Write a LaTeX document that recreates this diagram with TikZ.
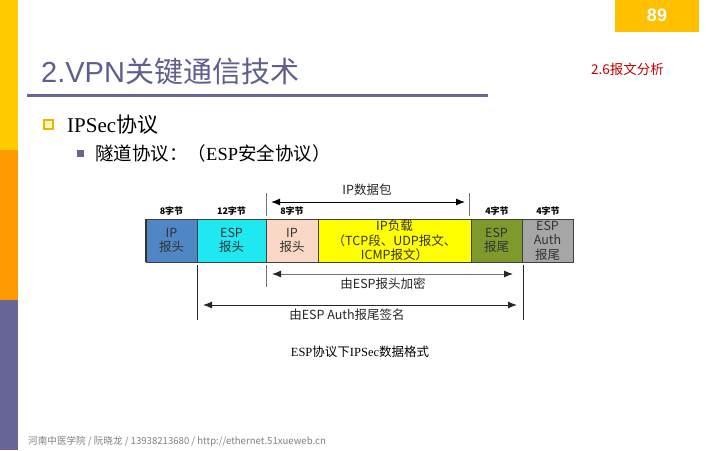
\documentclass[tikz,border=0pt]{standalone}
\usepackage{fontspec}
\setmainfont{Liberation Serif}
\newfontfamily\cjk{Noto Sans CJK SC}
\newfontfamily\arial{Liberation Sans}
\usetikzlibrary{arrows.meta}
\definecolor{baryellow}{HTML}{FFCC00}
\definecolor{barorange}{HTML}{FF9900}
\definecolor{barpurple}{HTML}{666699}
\definecolor{pagebox}{HTML}{FFC000}
\definecolor{titlecol}{HTML}{5F5F8F}
\definecolor{subred}{HTML}{C00000}
\definecolor{ipblue}{HTML}{4F86C6}
\definecolor{espcyan}{HTML}{20E8F0}
\definecolor{peach}{HTML}{FAD8C6}
\definecolor{payyellow}{HTML}{FFFF00}
\definecolor{olive}{HTML}{7E9A2C}
\definecolor{authgray}{HTML}{A6A6A6}
\definecolor{footgray}{HTML}{808080}
\tikzset{
  fbox/.style={draw=black!75, line width=0.8pt, minimum height=43pt, inner sep=0pt, align=center,
    font=\fontsize{12.5}{14.5}\cjk, text=black!80},
  sizelbl/.style={font=\fontsize{9}{10}\cjk\bfseries, inner sep=0pt},
  arrlbl/.style={font=\fontsize{12.5}{14}\cjk, inner sep=0pt, text=black!85},
  tick/.style={line width=1pt},
  arr/.style={line width=1pt, {Latex[length=9pt,width=7pt]}-{Latex[length=9pt,width=7pt]}},
}
\begin{document}
\begin{tikzpicture}[x=1pt,y=-1pt]
\useasboundingbox (0,0) rectangle (720,450);
\fill[white] (0,0) rectangle (720,450);
% left bar
\fill[baryellow] (0,0) rectangle (18,150);
\fill[barorange] (0,150) rectangle (18,300);
\fill[barpurple] (0,300) rectangle (18,450);
% page number
\fill[pagebox] (615,0) rectangle (699,32);
\node[font=\fontsize{18}{20}\arial\bfseries, text=white] (pgno) at (657,15) {89};
% title
\node[anchor=base west, inner sep=0pt, text=titlecol, font=\fontsize{29}{32}\cjk] (title) at (41,82) {{\arial 2.VPN}关键通信技术};
\draw[barpurple, line width=3pt] (27,95) -- (488,95);
\node[anchor=base west, inner sep=0pt, text=subred, font=\fontsize{13.5}{14}\cjk] (sub) at (591,74) {2.6报文分析};
% bullets
\draw[draw=baryellow!90!black, fill=baryellow!25, line width=1.6pt] (44,120) rectangle (53,129);
\node[anchor=base west, inner sep=0pt, font=\fontsize{21}{22}\selectfont] (b1) at (67,132) {IPSec{\cjk\fontsize{21}{22}\selectfont 协议}};
\fill[barpurple] (77,150) rectangle (84,157);
\node[anchor=base west, inner sep=0pt, font=\fontsize{18.5}{20}\cjk] (b2) at (95,160) {隧道协议：（{\rmfamily ESP}安全协议）};
% boxes
\node[fbox, fill=ipblue, minimum width=51pt] (iph) at (171.5,240.5) {IP\\报头};
\node[fbox, fill=espcyan, minimum width=69pt] (esph) at (231.5,240.5) {ESP\\报头};
\node[fbox, fill=peach, minimum width=52pt] (iph2) at (292,240.5) {IP\\报头};
\node[fbox, fill=payyellow, minimum width=153pt] (pay) at (394.5,240.5) {IP负载\\（TCP段、UDP报文、\\ICMP报文）};
\node[fbox, fill=olive, minimum width=51pt] (espt) at (496.5,240.5) {ESP\\报尾};
\node[fbox, fill=authgray, minimum width=51pt] (auth) at (547.5,240.5) {ESP\\Auth\\报尾};
\draw[black!80, line width=2pt] (iph.north west) -- (iph.south west);
% size labels
\node[sizelbl] (s1) at (171.5,211) {8字节};
\node[sizelbl] (s2) at (231.5,211) {12字节};
\node[sizelbl] (s3) at (292,211) {8字节};
\node[sizelbl] (s4) at (497,211) {4字节};
\node[sizelbl] (s5) at (548,211) {4字节};
% top arrow
\coordinate (ta) at (266,193); \coordinate (tb) at (266,216);
\coordinate (tc) at (469,193); \coordinate (td) at (469,216);
\draw[tick, black!55] (ta) -- (tb);
\draw[tick, black!55] (tc) -- (td);
\coordinate (tl) at (271,202); \coordinate (tr) at (465,202);
\draw[arr] (tl) -- (tr);
\node[arrlbl] (tlbl) at (367,190) {IP数据包};
% middle arrow
\coordinate (ma) at (266,265); \coordinate (mb) at (266,287);
\draw[tick, black!55] (ma) -- (mb);
\coordinate (ml) at (272,274); \coordinate (mr) at (513,274);
\draw[line width=1pt, black!55, {Latex[length=9pt,width=7pt,fill=black!85,color=black!85]}-{Latex[length=9pt,width=7pt,fill=black!85,color=black!85]}] (ml) -- (mr);
\node[arrlbl] (mlbl) at (383,284) {由ESP报头加密};
% bottom arrow
\coordinate (ba) at (197,265); \coordinate (bb) at (197,320);
\coordinate (bc) at (523,265); \coordinate (bd) at (523,320);
\draw[tick, black!85] (ba) -- (bb);
\draw[tick, black!85] (bc) -- (bd);
\coordinate (bl) at (203,305); \coordinate (br) at (517,305);
\draw[arr, black!85] (bl) -- (br);
\node[arrlbl] (blbl) at (347,315) {由ESP Auth报尾签名};
% caption
\node[inner sep=0pt, font=\fontsize{12.5}{14}\cjk] (cap) at (360,352) {{\rmfamily ESP}协议下{\rmfamily IPSec}数据格式};
% footer
\node[anchor=base west, inner sep=0pt, text=footgray, font=\fontsize{9.6}{11}\cjk] (foot) at (28,444) {河南中医学院 / 阮晓龙 / 13938213680 / http://ethernet.51xueweb.cn};
\end{tikzpicture}
\end{document}
